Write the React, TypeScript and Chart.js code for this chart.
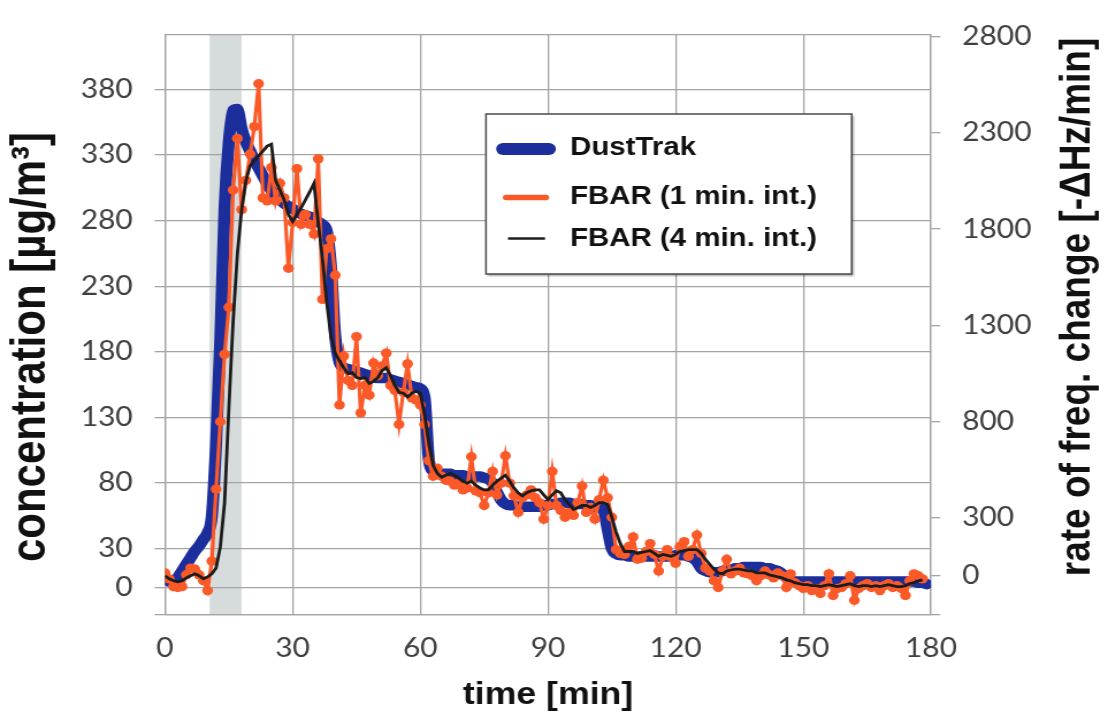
import React, { useEffect, useRef } from 'react';
import { Chart, registerables } from 'chart.js';

Chart.register(...registerables);

// ---------- data ----------
const minutes = [
  0, 1, 2, 3, 4, 5, 6, 7, 8, 9,
  10, 11, 12, 13, 14, 15, 16, 17, 18, 19,
  20, 21, 22, 23, 24, 25, 26, 27, 28, 29,
  30, 31, 32, 33, 34, 35, 36, 37, 38, 39,
  40, 41, 42, 43, 44, 45, 46, 47, 48, 49,
  50, 51, 52, 53, 54, 55, 56, 57, 58, 59,
  60, 61, 62, 63, 64, 65, 66, 67, 68, 69,
  70, 71, 72, 73, 74, 75, 76, 77, 78, 79,
  80, 81, 82, 83, 84, 85, 86, 87, 88, 89,
  90, 91, 92, 93, 94, 95, 96, 97, 98, 99,
  100, 101, 102, 103, 104, 105, 106, 107, 108, 109,
  110, 111, 112, 113, 114, 115, 116, 117, 118, 119,
  120, 121, 122, 123, 124, 125, 126, 127, 128, 129,
  130, 131, 132, 133, 134, 135, 136, 137, 138, 139,
  140, 141, 142, 143, 144, 145, 146, 147, 148, 149,
  150, 151, 152, 153, 154, 155, 156, 157, 158, 159,
  160, 161, 162, 163, 164, 165, 166, 167, 168, 169,
  170, 171, 172, 173, 174, 175, 176, 177, 178, 179,
];

// DustTrak concentration [µg/m³] (left axis)
const dustTrak = [
  null, 5, 5, 8, 13, 18, 23, 28, 32, 37,
  42, 55, 110, 190, 290, 340, 364, 365, 350, 340,
  333, 326, 320, 314, 308, 303, 299, 296, 293, 291,
  289, 287, 285, 284, 283, 281, 279, 277, 272, 245,
  192, 172, 168, 167, 166, 165, 164, 163, 162, 161,
  160, 160, 160, 159, 158, 157, 156, 155, 154, 153,
  152, 145, 98, 89, 87, 87, 87, 87, 86, 86,
  86, 85, 85, 85, 85, 84, 83, 80, 73, 67,
  64, 63, 63, 62, 62, 62, 62, 62, 62, 63,
  63, 64, 64, 65, 65, 65, 64, 64, 64, 63,
  63, 62, 62, 60, 45, 30, 26, 25, 25, 24,
  24, 24, 24, 24, 24, 24, 24, 24, 24, 24,
  25, 25, 25, 24, 23, 20, 15, 13, 12, 12,
  12, 13, 14, 14, 15, 15, 16, 16, 16, 16,
  16, 15, 15, 14, 13, 11, 8, 6, 5, 5,
  5, 5, 5, 5, 5, 5, 5, 5, 5, 5,
  5, 5, 5, 5, 5, 5, 5, 5, 5, 5,
  5, 5, 5, 5, 5, 5, 5, 4, 4, 3,
];

// FBAR 1-minute integration, rate of freq. change [-ΔHz/min] (right axis)
const fbar1min = [
  15, -16, -56, -61, -56, 5, 40, 35, 5, -26,
  -77, 76, 450, 800, 1150, 1394, 2003, 2271, 1901, 2053,
  2190, 2332, 2555, 1962, 1947, 2119, 1947, 2038, 1962, 1597,
  1835, 2114, 1825, 1876, 1825, 1774, 2165, 1435, 1698, 1749,
  1561, 887, 1141, 1014, 989, 1242, 846, 989, 938, 1105,
  1039, 1090, 1156, 989, 963, 786, 953, 1100, 923, 913,
  887, 786, 598, 517, 558, 517, 496, 491, 471, 481,
  446, 456, 618, 441, 431, 365, 431, 542, 420, 481,
  623, 481, 415, 329, 405, 420, 446, 405, 380, 294,
  365, 542, 365, 339, 304, 329, 314, 380, 466, 329,
  355, 294, 395, 496, 405, 304, 136, 116, 111, 152,
  202, 86, 91, 126, 167, 111, 25, 101, 136, 96,
  65, 152, 177, 101, 136, 212, 116, 40, 25, -26,
  -61, 25, 86, 10, 25, 40, 15, 10, 0, -26,
  0, 25, 5, -11, 15, 0, -61, 10, -36, -51,
  -66, -51, -77, -66, -92, -51, 10, -102, -66, -61,
  -41, 0, -127, -66, -51, -41, -61, -51, -77, -51,
  -41, -61, -51, -66, -102, -26, 10, 0, -16, null,
];

// FBAR 4-minute integration [-ΔHz/min] (right axis)
const fbar4min = [
  0, -16, -26, -31, -26, -11, 0, 10, 0, -16,
  -6, 10, 40, 150, 380, 870, 1320, 1670, 1900, 2050,
  2129, 2155, 2180, 2205, 2231, 2241, 2053, 2003, 1952, 1876,
  1840, 1876, 1911, 1952, 1993, 2038, 1835, 1648, 1420, 1242,
  1156, 1116, 1080, 1050, 1055, 1029, 1024, 1029, 999, 1009,
  1029, 1065, 1080, 1039, 989, 953, 948, 928, 948, 958,
  948, 836, 684, 573, 532, 512, 522, 532, 522, 507,
  491, 481, 491, 471, 456, 446, 446, 471, 491, 507,
  522, 491, 456, 431, 415, 431, 441, 446, 446, 420,
  395, 420, 441, 431, 395, 370, 344, 355, 365, 365,
  355, 365, 380, 380, 370, 304, 228, 167, 126, 126,
  126, 116, 121, 126, 131, 116, 101, 111, 106, 101,
  111, 126, 131, 136, 136, 136, 116, 86, 60, 35,
  15, 10, 25, 30, 35, 35, 30, 25, 25, 15,
  15, 15, 5, 0, -6, -11, -21, -26, -36, -41,
  -46, -46, -51, -51, -56, -51, -46, -51, -56, -51,
  -46, -41, -51, -56, -51, -51, -56, -51, -56, -51,
  -46, -51, -56, -56, -51, -41, -36, -26, -21, null,
];

const seriesLabels = ['DustTrak', 'FBAR (1 min. int.)', 'FBAR (4 min. int.)'];
const leftTickValues = [-20, 0, 30, 80, 130, 180, 230, 280, 330, 380];
const rightTickValues = [-200, 0, 300, 800, 1300, 1800, 2300, 2800];
const xTickStep = 30;
const shadedInterval = [10.5, 18];
const xTitle = 'time [min]';
const leftTitle = 'concentration [µg/m³]';
const rightTitle = 'rate of freq. change [-ΔHz/min]';

// ---------- layout ----------
const STRETCH = 1.1506;
const CSS_W = 1108;
const CSS_H = 723;
const CW = Math.round(CSS_W / STRETCH);
const CH = CSS_H;
const sx = (px: number) => px / STRETCH;

const PLOT_LEFT = sx(165);
const PLOT_RIGHT = sx(931);
const PLOT_TOP = 21;
const PLOT_BOTTOM = 614.3;

const BLUE = '#1b2e9c';
const ORANGE = '#fb5a28';
const BLACK = '#1c1c1c';
const GRID = '#a4a4a4';
const TICK_COLOR = '#3f3f3f';
const BOLD = '"Liberation Sans", Arial, sans-serif';
const TICK_FONT = { family: 'Lato, "Open Sans", sans-serif', size: 26 };

const toPoints = (ys: (number | null)[]) =>
  minutes
    .map((m, i) => ({ x: m, y: ys[i] }))
    .filter((p) => p.y !== null && p.y !== undefined) as { x: number; y: number }[];

const decorPlugin = {
  id: 'decor',
  beforeDraw(chart: any) {
    const { ctx, chartArea: a, scales } = chart;
    ctx.save();
    ctx.fillStyle = '#ffffff';
    ctx.fillRect(0, 0, chart.width, chart.height);
    const x0 = scales.x.getPixelForValue(shadedInterval[0]);
    const x1 = scales.x.getPixelForValue(shadedInterval[1]);
    ctx.fillStyle = '#d6dcdc';
    ctx.fillRect(x0, a.top, x1 - x0, a.bottom - a.top);
    ctx.restore();
  },
  beforeDatasetsDraw(chart: any) {
    const { ctx, chartArea: a } = chart;
    ctx.save();
    ctx.strokeStyle = GRID;
    ctx.lineWidth = 1.3;
    ctx.beginPath();
    ctx.moveTo(a.left, a.top);
    ctx.lineTo(a.right, a.top);
    ctx.stroke();
    ctx.restore();
  },
  afterDraw(chart: any) {
    const { ctx, chartArea: a } = chart;
    ctx.save();
    ctx.fillStyle = '#111';
    ctx.textAlign = 'center';
    ctx.textBaseline = 'middle';
    // x title
    ctx.font = `bold 31px ${BOLD}`;
    ctx.fillText(xTitle, (a.left + a.right) / 2, 695);
    // left title
    ctx.save();
    ctx.translate(sx(32), 347);
    ctx.rotate(-Math.PI / 2);
    ctx.font = `bold 42px ${BOLD}`;
    ctx.fillText(leftTitle, 0, 0);
    ctx.restore();
    // right title
    ctx.save();
    ctx.translate(sx(1078), 307);
    ctx.rotate(-Math.PI / 2);
    ctx.font = `bold 37px ${BOLD}`;
    ctx.fillText(rightTitle, 0, 0);
    ctx.restore();

    // legend box
    const bl = sx(486), br = sx(851.7), bt = 114, bb = 274;
    ctx.save();
    ctx.shadowColor = 'rgba(0,0,0,0.35)';
    ctx.shadowOffsetX = 2;
    ctx.shadowOffsetY = 2;
    ctx.shadowBlur = 2;
    ctx.fillStyle = '#ffffff';
    ctx.fillRect(bl, bt, br - bl, bb - bt);
    ctx.restore();
    ctx.strokeStyle = '#4a4a4a';
    ctx.lineWidth = 1.5;
    ctx.strokeRect(bl, bt, br - bl, bb - bt);

    const rows = [
      { y: 149, w: 12, x0: sx(503), x1: sx(549), cap: 'round', ty: 147 },
      { y: 197.5, w: 5.5, x0: sx(506), x1: sx(546), cap: 'round', ty: 196 },
      { y: 238.5, w: 2.5, x0: sx(508), x1: sx(545), cap: 'butt', ty: 238 },
    ];
    const ds = chart.data.datasets;
    rows.forEach((r, i) => {
      ctx.beginPath();
      ctx.strokeStyle = ds[i].borderColor;
      ctx.lineWidth = r.w;
      ctx.lineCap = r.cap as CanvasLineCap;
      ctx.moveTo(r.x0, r.y);
      ctx.lineTo(r.x1, r.y);
      ctx.stroke();
      ctx.fillStyle = '#111';
      ctx.textAlign = 'left';
      ctx.font = `bold 25.6px ${BOLD}`;
      ctx.fillText(ds[i].label, sx(570), r.ty + 1);
    });
    ctx.restore();
  },
};

export default function App() {
  const canvasRef = useRef<HTMLCanvasElement | null>(null);

  useEffect(() => {
    document.body.style.margin = '0';
    const canvas = canvasRef.current;
    if (!canvas) return;
    const chart = new Chart(canvas, {
      type: 'line',
      data: {
        datasets: [
          {
            label: seriesLabels[0],
            data: toPoints(dustTrak),
            yAxisID: 'yL',
            borderColor: BLUE,
            backgroundColor: BLUE,
            borderWidth: 10.5,
            pointRadius: 0,
            cubicInterpolationMode: 'monotone',
            borderCapStyle: 'round',
            borderJoinStyle: 'round',
            order: 3,
          },
          {
            label: seriesLabels[1],
            data: toPoints(fbar1min),
            yAxisID: 'yR',
            borderColor: ORANGE,
            backgroundColor: ORANGE,
            borderWidth: 3.2,
            pointRadius: 4.7,
            pointBorderWidth: 0,
            pointBackgroundColor: ORANGE,
            tension: 0,
            order: 2,
          },
          {
            label: seriesLabels[2],
            data: toPoints(fbar4min),
            yAxisID: 'yR',
            borderColor: BLACK,
            backgroundColor: BLACK,
            borderWidth: 2.8,
            pointRadius: 0,
            tension: 0,
            order: 1,
          },
        ],
      },
      options: {
        animation: false,
        responsive: false,
        devicePixelRatio: 1,
        layout: { padding: { top: PLOT_TOP, left: 0, right: 0, bottom: 0 } },
        plugins: {
          legend: { display: false },
          tooltip: { enabled: false },
        },
        scales: {
          x: {
            type: 'linear',
            min: 0,
            max: 180,
            ticks: {
              stepSize: xTickStep,
              color: TICK_COLOR,
              font: TICK_FONT,
              padding: 19,
              maxRotation: 0,
            },
            grid: { color: GRID, lineWidth: 1.3, drawTicks: false },
            border: { display: true, color: GRID, width: 1.3 },
            afterFit: (s: any) => {
              s.height = CH - PLOT_BOTTOM;
            },
          },
          yL: {
            type: 'linear',
            position: 'left',
            min: -20,
            max: 421.7,
            afterBuildTicks: (s: any) => {
              s.ticks = leftTickValues.map((v) => ({ value: v }));
            },
            ticks: {
              color: TICK_COLOR,
              font: TICK_FONT,
              padding: 19,
              callback: (v: any) => (v === leftTickValues[0] ? '' : String(v)),
            },
            grid: { color: GRID, lineWidth: 1.3, tickLength: 9 },
            border: { display: true, color: GRID, width: 1.3 },
            afterFit: (s: any) => {
              s.width = PLOT_LEFT;
            },
          },
          yR: {
            type: 'linear',
            position: 'right',
            min: -200,
            max: 2810,
            afterBuildTicks: (s: any) => {
              s.ticks = rightTickValues.map((v) => ({ value: v }));
            },
            ticks: {
              color: TICK_COLOR,
              font: TICK_FONT,
              padding: 19,
              callback: (v: any) => (v === rightTickValues[0] ? '' : String(v)),
            },
            grid: { drawOnChartArea: false, color: GRID, lineWidth: 1.3, tickLength: 8 },
            border: { display: true, color: GRID, width: 1.3 },
            afterFit: (s: any) => {
              s.width = CW - PLOT_RIGHT;
            },
          },
        },
      },
      plugins: [decorPlugin],
    } as any);
    return () => chart.destroy();
  }, []);

  return (
    <div style={{ width: CSS_W, height: CSS_H, overflow: 'hidden' }}>
      <canvas
        ref={canvasRef}
        width={CW}
        height={CH}
        style={{ width: `${CSS_W}px`, height: `${CSS_H}px`, display: 'block' }}
      />
    </div>
  );
}
